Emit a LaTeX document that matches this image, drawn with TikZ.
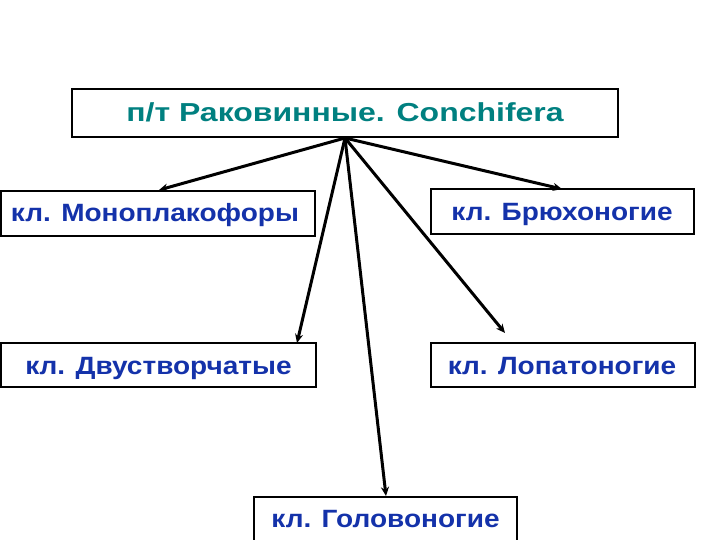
\documentclass[tikz,border=0pt]{standalone}
\usepackage{fontspec}
\setmainfont{Liberation Sans}
\usetikzlibrary{arrows.meta}
\definecolor{teal1}{RGB}{0,128,128}
\definecolor{blue1}{RGB}{20,50,170}
\begin{document}
\begin{tikzpicture}[x=1pt,y=-1pt,
  box/.style={draw=black,line width=2pt,fill=white},
  lbl/.style={anchor=base,inner sep=0pt,font=\fontsize{25}{29}\selectfont\bfseries\addfontfeature{FakeStretch=1.12},text=blue1},
  conn/.style={line width=3pt,-{Stealth[length=9pt,width=8pt]}}]
\useasboundingbox[fill=white] (0,0) rectangle (720,540);
% boxes
\draw[box] (72,89) rectangle (618,137);
\node[anchor=base,inner sep=0pt,font=\fontsize{26}{30}\selectfont\bfseries\addfontfeature{FakeStretch=1.23},text=teal1] (top) at (345,122) {п/т Раковинные. Conchifera};
\draw[box] (1,191) rectangle (315,236);
\node[lbl] (mono) at (155,222) {кл. Моноплакофоры};
\draw[box] (431,189) rectangle (694,234);
\node[lbl] (brux) at (562,221) {кл. Брюхоногие};
\draw[box] (1,343) rectangle (316,387);
\node[lbl] (dvu) at (158.5,374) {кл. Двустворчатые};
\draw[box] (431,343) rectangle (695,387);
\node[lbl] (lop) at (562,374) {кл. Лопатоногие};
\draw[box] (254,497) rectangle (517,541);
\node[lbl] (gol) at (385.5,527) {кл. Головоногие};
% connectors
\coordinate (hub) at (345,138);
\coordinate (t1) at (159,190);
\coordinate (t2) at (562,189);
\coordinate (t3) at (297,343);
\coordinate (t4) at (505,333);
\coordinate (t5) at (386,496);
\foreach \t in {t1,t2,t3,t4,t5} \draw[conn] (hub) -- (\t);
\end{tikzpicture}
\end{document}
